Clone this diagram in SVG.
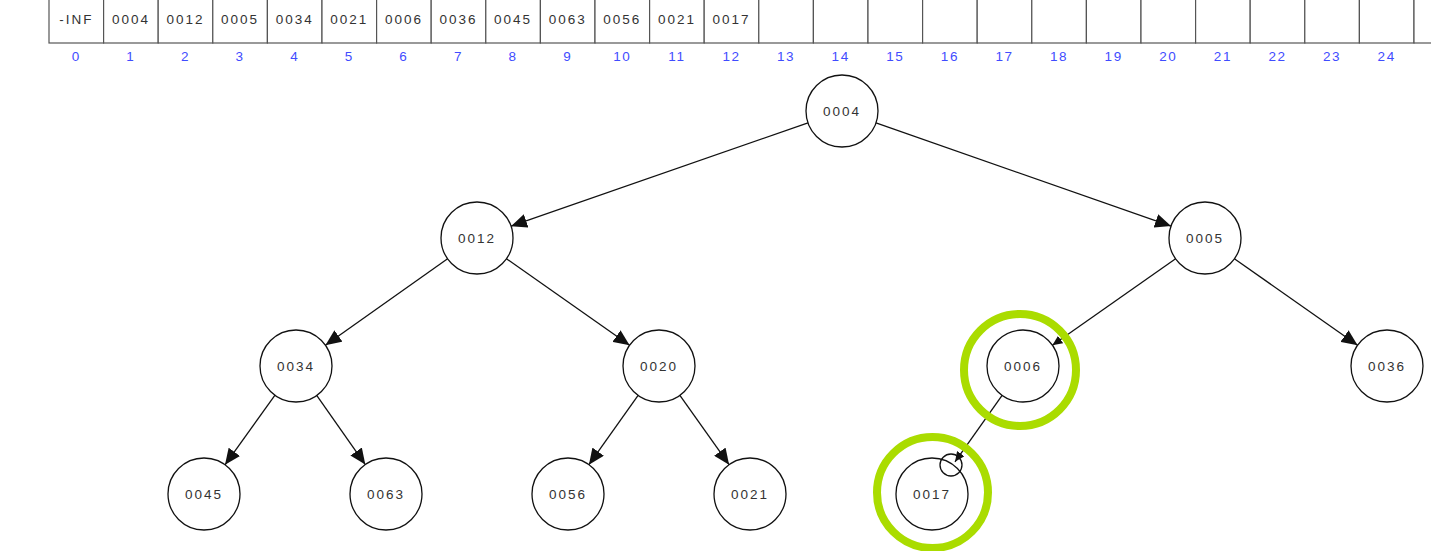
<svg xmlns="http://www.w3.org/2000/svg" width="1431" height="551" viewBox="0 0 1431 551">
  <style>
    .cell { fill: #ffffff; stroke: #555555; stroke-width: 1.2; }
    .val { font-family: "Liberation Sans", Arial, sans-serif; font-size: 13.5px; letter-spacing: 2px; fill: #333333; text-anchor: middle; }
    .idx { font-family: "Liberation Sans", Arial, sans-serif; font-size: 13.5px; letter-spacing: 1.6px; fill: #3f4cff; text-anchor: middle; }
    .node circle { fill: #ffffff; stroke: #111111; stroke-width: 1.3; }
    .edge { stroke: #111111; stroke-width: 1.3; fill: none; }
    .hl { fill: none; stroke: #aadc00; stroke-width: 8; }
  </style>
  <defs>
    <marker id="arrow" markerUnits="userSpaceOnUse" markerWidth="18" markerHeight="14" refX="16" refY="7" orient="auto">
      <path d="M0,0 L16,7 L0,14 Z" fill="#111111"/>
    </marker>
    <marker id="arrow-small" markerUnits="userSpaceOnUse" markerWidth="11" markerHeight="9" refX="10" refY="4.5" orient="auto">
      <path d="M0,0 L10,4.5 L0,9 Z" fill="#111111"/>
    </marker>
  </defs>

  <!-- heap array -->
  <g id="array">
    <rect class="cell" x="49" y="-5" width="54.6" height="48"/>
    <rect class="cell" x="103.6" y="-5" width="54.6" height="48"/>
    <rect class="cell" x="158.2" y="-5" width="54.6" height="48"/>
    <rect class="cell" x="212.8" y="-5" width="54.6" height="48"/>
    <rect class="cell" x="267.4" y="-5" width="54.6" height="48"/>
    <rect class="cell" x="322" y="-5" width="54.6" height="48"/>
    <rect class="cell" x="376.6" y="-5" width="54.6" height="48"/>
    <rect class="cell" x="431.2" y="-5" width="54.6" height="48"/>
    <rect class="cell" x="485.8" y="-5" width="54.6" height="48"/>
    <rect class="cell" x="540.4" y="-5" width="54.6" height="48"/>
    <rect class="cell" x="595" y="-5" width="54.6" height="48"/>
    <rect class="cell" x="649.6" y="-5" width="54.6" height="48"/>
    <rect class="cell" x="704.2" y="-5" width="54.6" height="48"/>
    <rect class="cell" x="758.8" y="-5" width="54.6" height="48"/>
    <rect class="cell" x="813.4" y="-5" width="54.6" height="48"/>
    <rect class="cell" x="868" y="-5" width="54.6" height="48"/>
    <rect class="cell" x="922.6" y="-5" width="54.6" height="48"/>
    <rect class="cell" x="977.2" y="-5" width="54.6" height="48"/>
    <rect class="cell" x="1031.8" y="-5" width="54.6" height="48"/>
    <rect class="cell" x="1086.4" y="-5" width="54.6" height="48"/>
    <rect class="cell" x="1141" y="-5" width="54.6" height="48"/>
    <rect class="cell" x="1195.6" y="-5" width="54.6" height="48"/>
    <rect class="cell" x="1250.2" y="-5" width="54.6" height="48"/>
    <rect class="cell" x="1304.8" y="-5" width="54.6" height="48"/>
    <rect class="cell" x="1359.4" y="-5" width="54.6" height="48"/>
    <rect class="cell" x="1414" y="-5" width="54.6" height="48"/>

    <text class="val" x="76.3" y="24">-INF</text>
    <text class="val" x="130.9" y="24">0004</text>
    <text class="val" x="185.5" y="24">0012</text>
    <text class="val" x="240.1" y="24">0005</text>
    <text class="val" x="294.7" y="24">0034</text>
    <text class="val" x="349.3" y="24">0021</text>
    <text class="val" x="403.9" y="24">0006</text>
    <text class="val" x="458.5" y="24">0036</text>
    <text class="val" x="513.1" y="24">0045</text>
    <text class="val" x="567.7" y="24">0063</text>
    <text class="val" x="622.3" y="24">0056</text>
    <text class="val" x="676.9" y="24">0021</text>
    <text class="val" x="731.5" y="24">0017</text>

    <text class="idx" x="76.3" y="61">0</text>
    <text class="idx" x="130.9" y="61">1</text>
    <text class="idx" x="185.5" y="61">2</text>
    <text class="idx" x="240.1" y="61">3</text>
    <text class="idx" x="294.7" y="61">4</text>
    <text class="idx" x="349.3" y="61">5</text>
    <text class="idx" x="403.9" y="61">6</text>
    <text class="idx" x="458.5" y="61">7</text>
    <text class="idx" x="513.1" y="61">8</text>
    <text class="idx" x="567.7" y="61">9</text>
    <text class="idx" x="622.3" y="61">10</text>
    <text class="idx" x="676.9" y="61">11</text>
    <text class="idx" x="731.5" y="61">12</text>
    <text class="idx" x="786.1" y="61">13</text>
    <text class="idx" x="840.7" y="61">14</text>
    <text class="idx" x="895.3" y="61">15</text>
    <text class="idx" x="949.9" y="61">16</text>
    <text class="idx" x="1004.5" y="61">17</text>
    <text class="idx" x="1059.1" y="61">18</text>
    <text class="idx" x="1113.7" y="61">19</text>
    <text class="idx" x="1168.3" y="61">20</text>
    <text class="idx" x="1222.9" y="61">21</text>
    <text class="idx" x="1277.5" y="61">22</text>
    <text class="idx" x="1332.1" y="61">23</text>
    <text class="idx" x="1386.7" y="61">24</text>
  </g>

  <!-- parent to child links -->
  <g id="connectors">
    <line class="edge" x1="808" y1="122.8" x2="511" y2="226.2" marker-end="url(#arrow)"/>
    <line class="edge" x1="876" y1="122.9" x2="1171" y2="226.1" marker-end="url(#arrow)"/>
    <line class="edge" x1="447.6" y1="258.8" x2="325.4" y2="345.2" marker-end="url(#arrow)"/>
    <line class="edge" x1="506.4" y1="258.7" x2="629.6" y2="345.3" marker-end="url(#arrow)"/>
    <line class="edge" x1="1175.6" y1="258.7" x2="1052.4" y2="345.3" marker-end="url(#arrow-small)"/>
    <line class="edge" x1="1234.4" y1="258.7" x2="1357.6" y2="345.3" marker-end="url(#arrow)"/>
    <line class="edge" x1="275" y1="395.2" x2="225" y2="464.8" marker-end="url(#arrow)"/>
    <line class="edge" x1="316.7" y1="395.4" x2="365.3" y2="464.6" marker-end="url(#arrow)"/>
    <line class="edge" x1="638.1" y1="395.3" x2="588.9" y2="464.7" marker-end="url(#arrow)"/>
    <line class="edge" x1="679.9" y1="395.3" x2="729.1" y2="464.7" marker-end="url(#arrow)"/>
    <line class="edge" x1="1002.1" y1="395.3" x2="955" y2="461.8" marker-end="url(#arrow-small)"/>
  </g>

  <!-- tree nodes -->
  <g id="node-0004" class="node"><circle cx="842" cy="111" r="36"/><text class="val" x="842" y="116">0004</text></g>
  <g id="node-0012" class="node"><circle cx="477" cy="238" r="36"/><text class="val" x="477" y="243">0012</text></g>
  <g id="node-0005" class="node"><circle cx="1205" cy="238" r="36"/><text class="val" x="1205" y="243">0005</text></g>
  <g id="node-0034" class="node"><circle cx="296" cy="366" r="36"/><text class="val" x="296" y="371">0034</text></g>
  <g id="node-0020" class="node"><circle cx="659" cy="366" r="36"/><text class="val" x="659" y="371">0020</text></g>
  <g id="node-0006" class="node"><circle cx="1023" cy="366" r="36"/><text class="val" x="1023" y="371">0006</text></g>
  <g id="node-0036" class="node"><circle cx="1387" cy="366" r="36"/><text class="val" x="1387" y="371">0036</text></g>
  <g id="node-0045" class="node"><circle cx="204" cy="494" r="36"/><text class="val" x="204" y="499">0045</text></g>
  <g id="node-0063" class="node"><circle cx="386" cy="494" r="36"/><text class="val" x="386" y="499">0063</text></g>
  <g id="node-0056" class="node"><circle cx="568" cy="494" r="36"/><text class="val" x="568" y="499">0056</text></g>
  <g id="node-0021" class="node"><circle cx="750" cy="494" r="36"/><text class="val" x="750" y="499">0021</text></g>
  <g id="node-0017" class="node"><circle cx="932" cy="494" r="36"/><text class="val" x="932" y="499">0017</text></g>

  <!-- swap highlight -->
  <g id="highlight">
    <circle class="hl" cx="1020" cy="370" r="56"/>
    <circle class="hl" cx="932.5" cy="492.5" r="55.5"/>
    <circle cx="951" cy="465" r="11" fill="none" stroke="#111111" stroke-width="1.3"/>
  </g>
</svg>
